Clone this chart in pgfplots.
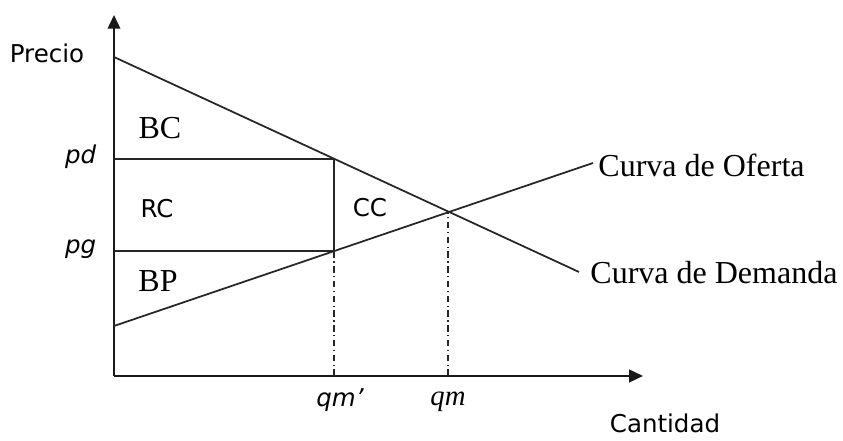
\documentclass[border=0pt]{standalone}
\usepackage{fontspec}
\setmainfont{Liberation Serif}
\newfontfamily\sans{DejaVu Sans}
\usepackage{pgfplots}
\pgfplotsset{compat=1.18}
\usetikzlibrary{arrows.meta}

\begin{document}
\begin{tikzpicture}
\begin{axis}[
    hide axis,
    clip=false,
    x=0.4pt, y=0.4pt,
    xmin=0, xmax=529, ymin=0, ymax=361,
    linea/.style={no marks, line width=0.7pt, black!85},
    punteada/.style={dash pattern=on 2.6pt off 1.4pt on 0.5pt off 1.4pt},
]
% ejes
\addplot[no marks, line width=0.9pt, black!90, -{Triangle[length=5.5pt,width=5pt]}] coordinates {(0,0) (529,0)};
\addplot[no marks, line width=0.9pt, black!90, -{Triangle[length=5.5pt,width=5pt]}] coordinates {(0,0) (0,361)};

% demanda y oferta
\addplot[linea] coordinates {(0,319) (465,104)};
\addplot[linea] coordinates {(0,50) (479,213)};

% precios pd y pg
\addplot[linea] coordinates {(0,217) (220,217)};
\addplot[linea] coordinates {(0,125) (220,125)};
\addplot[linea] coordinates {(220,125) (220,217)};

% cantidades
\addplot[linea, punteada] coordinates {(220,0) (220,125)};
\addplot[linea, punteada] coordinates {(334,0) (334,165)};

% area invisible para el marco
\path (axis cs:-114,-58) rectangle (axis cs:729,376);

\node[font=\sans\fontsize{9.8}{11}\selectfont] at (axis cs:-67,323) {Precio};
\node[font=\sans\fontsize{9.8}{11}\selectfont] at (axis cs:551,-47) {Cantidad};
\node[font=\sans\itshape\fontsize{9.8}{11}\selectfont, anchor=east] at (axis cs:-9,219) {pd};
\node[font=\sans\itshape\fontsize{9.8}{11}\selectfont, anchor=east] at (axis cs:-9,127) {pg};
\node[font=\sans\itshape\fontsize{9.8}{11}\selectfont] at (axis cs:226,-24) {qm’};
\node[font=\itshape\fontsize{11.5}{13}\selectfont] at (axis cs:334,-26) {qm};

\node[font=\fontsize{12.8}{15}\selectfont] at (axis cs:46,248) {BC};
\node[font=\sans\fontsize{9.8}{11}\selectfont] at (axis cs:43,167) {RC};
\node[font=\sans\fontsize{9.8}{11}\selectfont] at (axis cs:256,168) {CC};
\node[font=\fontsize{12.8}{15}\selectfont] at (axis cs:44,95) {BP};

\node[font=\fontsize{12.8}{15}\selectfont, anchor=west, inner sep=0pt] at (axis cs:484,211) {Curva de Oferta};
\node[font=\fontsize{12.8}{15}\selectfont, anchor=west, inner sep=0pt] at (axis cs:476,103) {Curva de Demanda};
\end{axis}
\end{tikzpicture}
\end{document}
